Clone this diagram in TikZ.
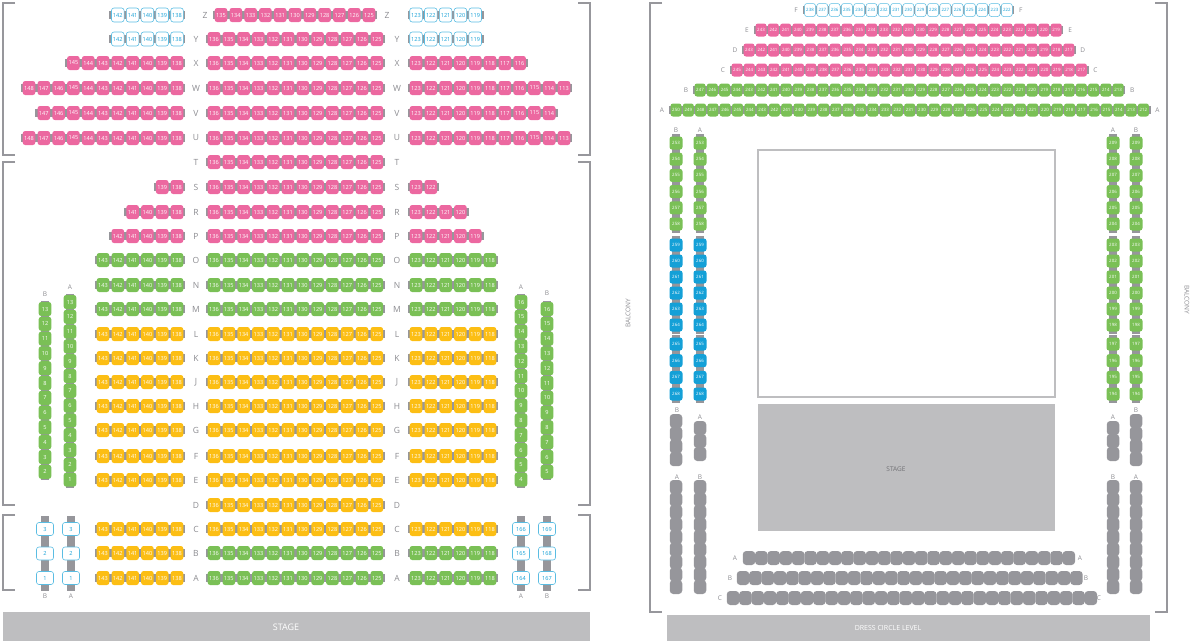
\documentclass[tikz,border=0pt]{standalone}
\usepackage{fontspec}
\setsansfont{Open Sans}
\usepackage{tikz}
\definecolor{seatpink}{RGB}{236,104,160}
\definecolor{seatgreen}{RGB}{122,192,86}
\definecolor{seatyellow}{RGB}{252,190,20}
\definecolor{seatblue}{RGB}{20,160,215}
\definecolor{barg}{RGB}{150,150,155}
\definecolor{labg}{RGB}{140,140,145}
\definecolor{stageg}{RGB}{190,190,192}

% a run of seats: name, x0, y0, dx, dy, first, last, style
\newcommand\seats[8]{%
  \foreach \n [count=\i from 0] in {#6,...,#7}
    \node [back={#4}{#5}] (#1b\n) at ({#2+\i*(#4)}, {#3+\i*(#5)}) {};
  \foreach \n [count=\i from 0] in {#6,...,#7}
    \node [#8] (#1\n) at ({#2+\i*(#4)}, {#3+\i*(#5)}) {\n};
}
% a run of grey seats with no numbers: name, x0, y0, dx, dy, count
\newcommand\blanks[6]{%
  \foreach \i in {1,...,#6}
    \node [blank] (#1\i) at ({#2+(\i-1)*(#4)}, {#3+(\i-1)*(#5)}) {};
}

\begin{document}
\begin{tikzpicture}[x=1pt, y=-1pt,
    seat/.style={rounded corners=2.5pt, inner sep=0, minimum width=12.6, minimum height=14,
      text=white, font=\sffamily\fontsize{5.6}{5.6}\selectfont},
    pink/.style={seat, fill=seatpink},
    green/.style={seat, fill=seatgreen},
    yellow/.style={seat, fill=seatyellow},
    ring/.style={seat, draw=seatblue!70, fill=white, text=seatblue, line width=0.6},
    box/.style={ring, minimum width=17, minimum height=13},
    small/.style={seat, minimum width=11, minimum height=13, font=\sffamily\fontsize{4.4}{4.4}\selectfont},
    spink/.style={small, fill=seatpink},
    sgreen/.style={small, fill=seatgreen},
    sblue/.style={small, fill=seatblue},
    tgreen/.style={sgreen, minimum width=13},
    tblue/.style={sblue, minimum width=13},
    sring/.style={small, draw=seatblue!70, fill=white, text=seatblue, line width=0.5},
    back/.style 2 args={fill=barg, inner sep=0, minimum width={max(abs(#1)+2,8)},
      minimum height={max(abs(#2)+2,8)}},
    blank/.style={fill=barg, rounded corners=3.5pt, inner sep=0, minimum width=12.5, minimum height=14},
    rowlab/.style={text=labg, font=\sffamily\fontsize{8.5}{8.5}\selectfont},
    collab/.style={text=labg, font=\sffamily\fontsize{6.5}{6.5}\selectfont},
    frame/.style={draw=labg!90, line width=1.2}]
  \useasboundingbox (0,0) rectangle (1197,643);

  % stalls frames
  \draw [frame] (15,3) -- (3,3) -- (3,155) -- (15,155);
  \draw [frame] (578,3) -- (590,3) -- (590,155) -- (578,155);
  \draw [frame] (15,162) -- (3,162) -- (3,505) -- (15,505);
  \draw [frame] (578,162) -- (590,162) -- (590,505) -- (578,505);
  \draw [frame] (15,515) -- (3,515) -- (3,590) -- (15,590);
  \draw [frame] (578,515) -- (590,515) -- (590,590) -- (578,590);
  \fill [stageg] (3,612) rectangle (590,641);
  \node [text=white, font=\sffamily\fontsize{9}{9}\selectfont] (stage) at (286,627) {STAGE};

  % centre block
  \seats{cZ}{221}{15}{14.8}{0}{135}{125}{pink}
  \foreach \r/\y/\s in {Y/39/pink, X/63/pink, W/88/pink, V/113/pink, U/138/pink, T/162/pink,
      S/187/pink, R/212/pink, P/236/pink, O/260/green, N/285/green, M/309/green,
      L/334/yellow, K/358/yellow, J/382/yellow, H/406/yellow, G/430/yellow, F/456/yellow,
      E/480/yellow, D/505/yellow, C/529/yellow, B/553/green, A/578/green}{
    \seats{c\r}{214}{\y}{14.8}{0}{136}{125}{\s}
    \node [rowlab] (l\r) at (196,\y) {\r};
    \node [rowlab] (r\r) at (397,\y) {\r};
  }
  \node [rowlab] (lZ) at (205,15) {Z};
  \node [rowlab] (rZ) at (387,15) {Z};

  % left block
  \foreach \r/\y/\t/\s in {Z/15/142/ring, Y/39/142/ring, X/63/145/pink, W/88/148/pink,
      V/113/147/pink, U/138/148/pink, S/187/139/pink, R/212/141/pink, P/236/142/pink,
      O/260/143/green, N/285/143/green, M/309/143/green, L/334/143/yellow, K/358/143/yellow,
      J/382/143/yellow, H/406/143/yellow, G/430/143/yellow, F/456/143/yellow, E/480/143/yellow,
      C/529/143/yellow, B/553/143/yellow, A/578/143/yellow}{
    \seats{l\r}{177-(\t-138)*14.8}{\y}{14.8}{0}{\t}{138}{\s}
  }

  % right block
  \foreach \r/\y/\t/\s in {Z/15/119/ring, Y/39/119/ring, X/63/116/pink, W/88/113/pink,
      V/113/114/pink, U/138/113/pink, S/187/122/pink, R/212/120/pink, P/236/119/pink,
      O/260/118/green, N/285/118/green, M/309/118/green, L/334/118/yellow, K/358/118/yellow,
      J/382/118/yellow, H/406/118/yellow, G/430/118/yellow, F/456/118/yellow, E/480/118/yellow,
      C/529/118/yellow, B/553/118/green, A/578/118/green}{
    \seats{r\r}{416}{\y}{14.8}{0}{123}{\t}{\s}
  }

  % side columns
  \seats{sb}{45}{309}{0}{14.8}{13}{2}{green}
  \seats{sa}{70}{302}{0}{14.8}{13}{1}{green}
  \seats{ta}{521}{302}{0}{14.8}{16}{4}{green}
  \seats{tb}{547}{309}{0}{14.8}{16}{5}{green}
  \node [collab] (sbl) at (45,294) {B};
  \node [collab] (sal) at (70,287) {A};
  \node [collab] (tal) at (521,287) {A};
  \node [collab] (tbl) at (547,293) {B};

  % boxes
  \seats{xb}{45}{529}{0}{24.5}{3}{1}{box}
  \seats{xa}{71}{529}{0}{24.5}{3}{1}{box}
  \seats{ya}{521}{529}{0}{24.5}{166}{164}{box}
  \seats{yb}{547}{529}{0}{24.5}{169}{167}{box}
  \node [collab] (xbl) at (45,596) {B};
  \node [collab] (xal) at (71,596) {A};
  \node [collab] (yal) at (521,596) {A};
  \node [collab] (ybl) at (547,596) {B};

  % dress circle
  \draw [frame] (662,3) -- (650,3) -- (650,612) -- (662,612);
  \draw [frame] (1155,3) -- (1167,3) -- (1167,612) -- (1155,612);
  \fill [stageg] (667,615) rectangle (1150,641);
  \node [text=white, font=\sffamily\fontsize{7}{7}\selectfont] (dcl) at (888,628) {DRESS CIRCLE LEVEL};
  \node [collab, rotate=90] (balL) at (628,313) {BALCONY};
  \node [collab, rotate=-90] (balR) at (1187,300) {BALCONY};

  \foreach \r/\y/\x/\t/\u/\s in {F/10/810/238/222/sring, E/30/761/243/219/spink,
      D/50/749/243/217/spink, C/70/737/245/217/spink, B/90/700/247/213/sgreen,
      A/110/676/250/212/sgreen}{
    \seats{d\r}{\x}{\y}{12.3}{0}{\t}{\u}{\s}
    \node [collab] (dl\r) at (\x-14,\y) {\r};
    \node [collab] (dr\r) at ({\x+(\t-\u)*12.3+14},\y) {\r};
  }

  \foreach \c/\x in {b/676, a/700}{
    \seats{e\c}{\x}{143}{0}{16.2}{253}{258}{tgreen}
    \seats{f\c}{\x}{245}{0}{16}{259}{264}{tblue}
    \seats{g\c}{\x}{344}{0}{16.7}{265}{268}{tblue}
  }
  \foreach \c/\x in {a/1113, b/1136}{
    \seats{h\c}{\x}{143}{0}{16.2}{209}{204}{tgreen}
    \seats{j\c}{\x}{245}{0}{16}{203}{198}{tgreen}
    \seats{k\c}{\x}{344}{0}{16.7}{197}{194}{tgreen}
  }
  \node [collab] (ebl) at (676,130) {B};
  \node [collab] (eal) at (700,130) {A};
  \node [collab] (hal) at (1113,130) {A};
  \node [collab] (hbl) at (1136,130) {B};

  \draw [draw=stageg, line width=1.5] (758,150) rectangle (1055,397);
  \fill [stageg] (758,404) rectangle (1055,531);
  \node [collab, text=labg!80!black] (dstage) at (896,469) {STAGE};

  % grey seats
  \blanks{kb}{676}{421}{0}{12.7}{4}
  \blanks{ka}{700}{428}{0}{13}{3}
  \blanks{ma}{676}{487}{0}{12.5}{9}
  \blanks{mb}{700}{487}{0}{12.5}{9}
  \blanks{na}{1113}{428}{0}{13}{3}
  \blanks{nb}{1136}{421}{0}{12.7}{4}
  \blanks{ob}{1113}{487}{0}{12.5}{9}
  \blanks{oa}{1136}{487}{0}{12.5}{9}
  \blanks{qa}{749}{558}{12.3}{0}{27}
  \blanks{qb}{743}{578}{12.35}{0}{28}
  \blanks{qc}{733}{598}{12.34}{0}{30}
  \node [collab] (kbl) at (677,410) {B};
  \node [collab] (kal) at (700,417) {A};
  \node [collab] (mal) at (677,477) {A};
  \node [collab] (mbl) at (700,477) {B};
  \node [collab] (nal) at (1113,417) {A};
  \node [collab] (nbl) at (1136,410) {B};
  \node [collab] (obl) at (1113,477) {B};
  \node [collab] (oal) at (1136,477) {A};
  \node [collab] (qal) at (735,558) {A};
  \node [collab] (qar) at (1080,558) {A};
  \node [collab] (qbl) at (730,578) {B};
  \node [collab] (qbr) at (1086,578) {B};
  \node [collab] (qcl) at (720,598) {C};
  \node [collab] (qcr) at (1099,598) {C};
\end{tikzpicture}
\end{document}
